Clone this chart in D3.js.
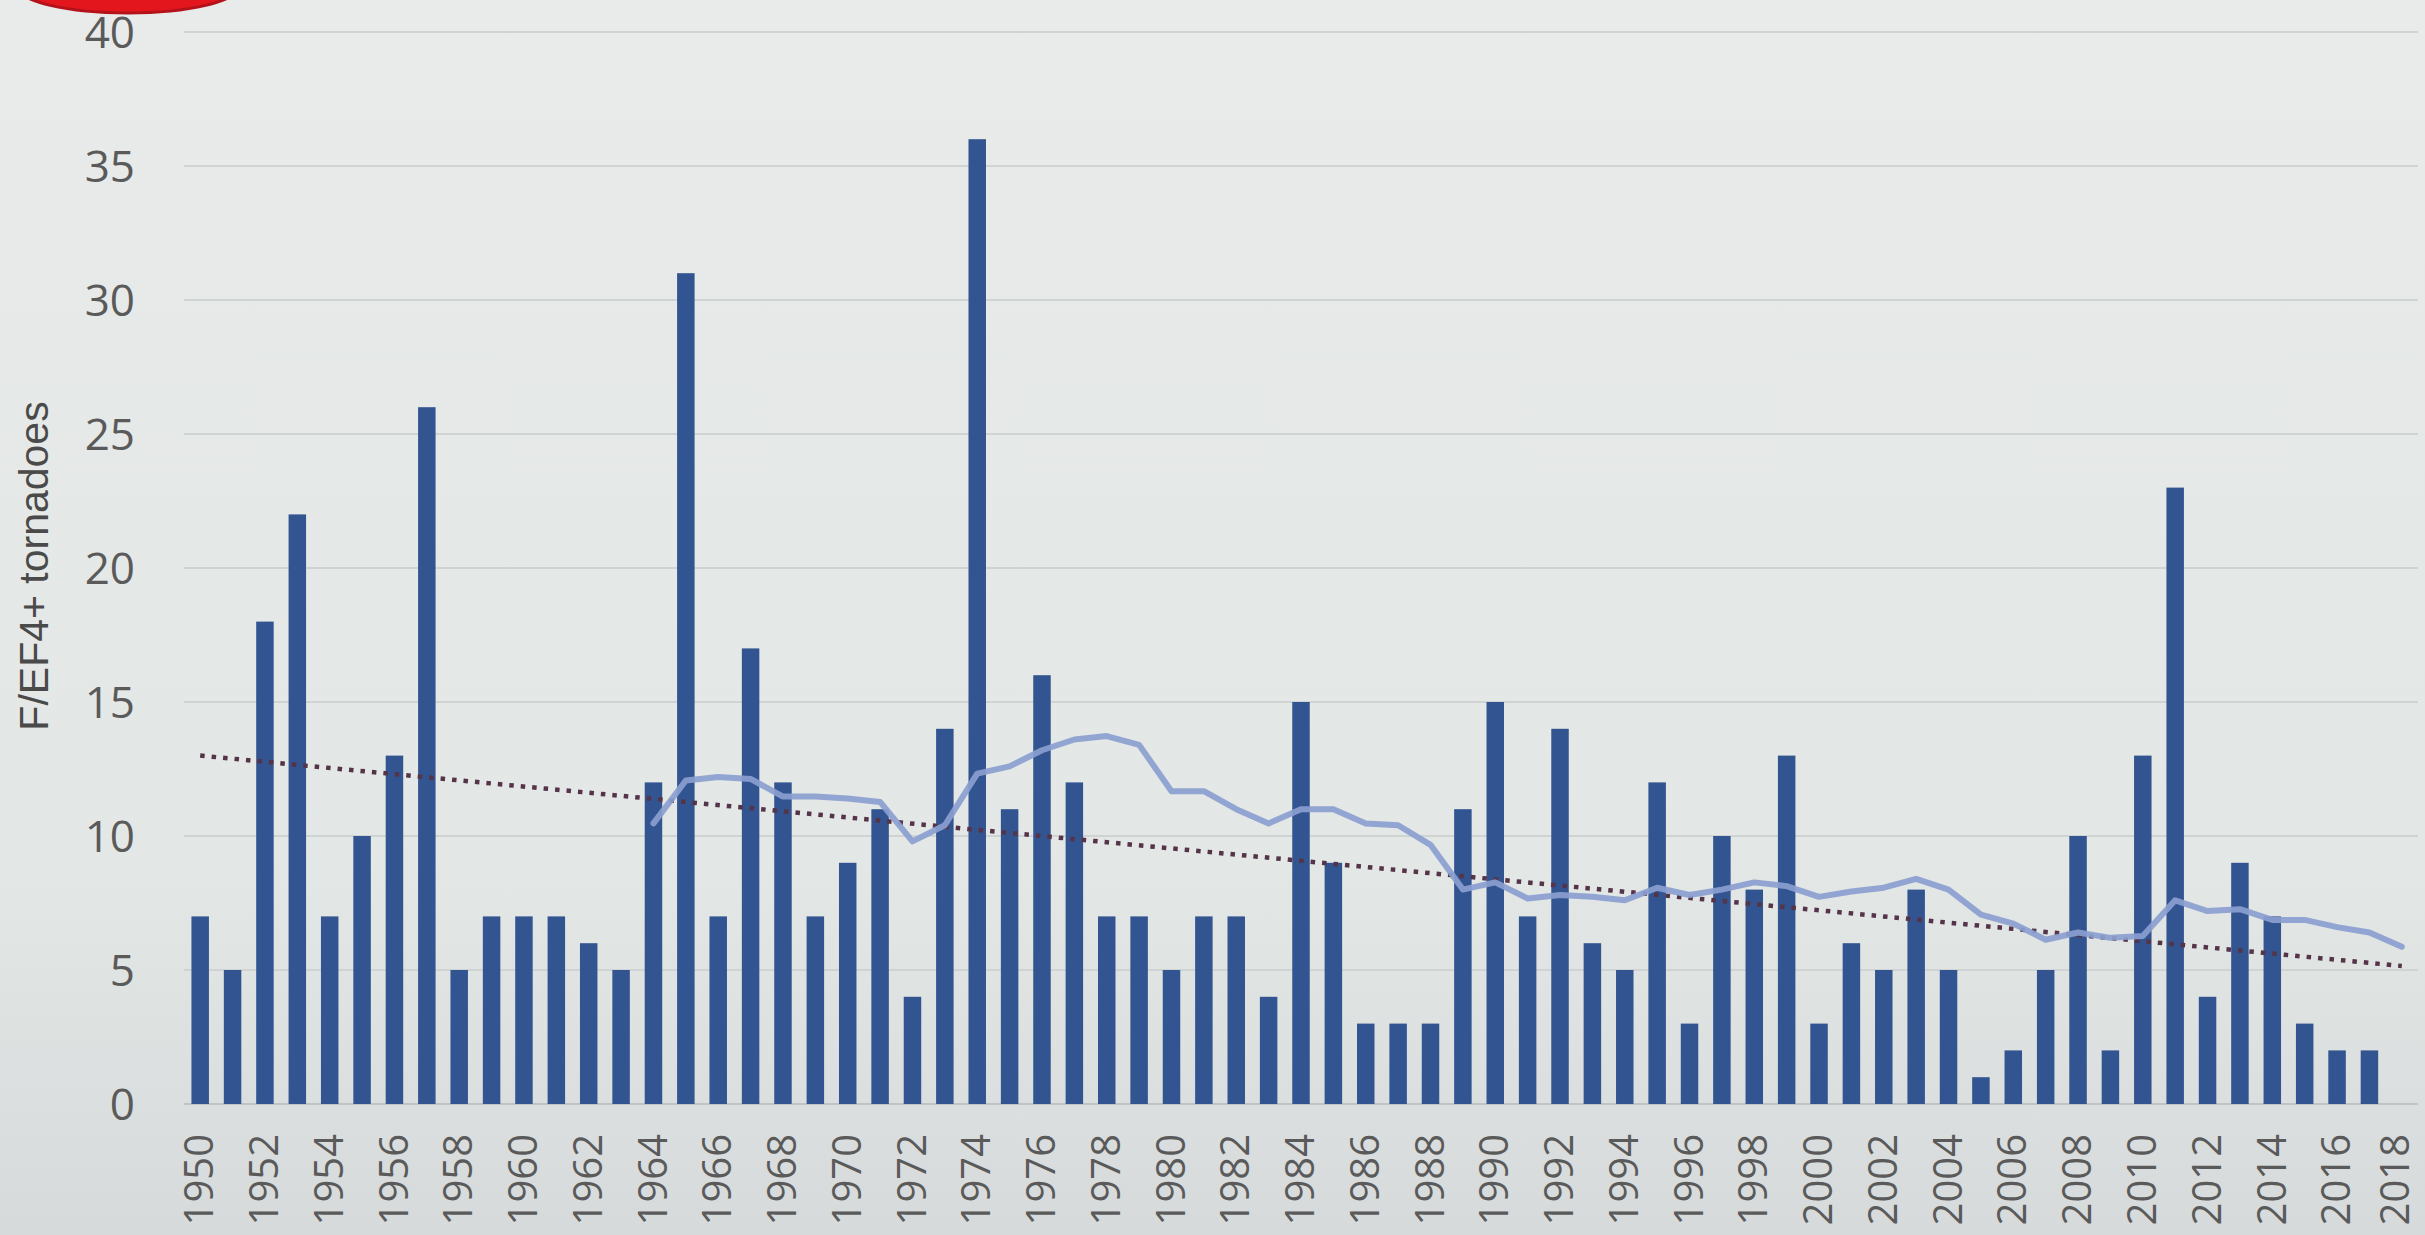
<!DOCTYPE html>
<html>
<head>
<meta charset="utf-8">
<script src="https://cdn.jsdelivr.net/npm/d3@7"></script>
<style>
  body { margin: 0; overflow: hidden; background: #e4e8e6; }
</style>
</head>
<body>
<svg width="2425" height="1235"></svg>
<script>
// categories: years 1950..2018
const years = d3.range(1950, 2019);

// F/EF4+ tornado counts per year (2018 has no bar)
const counts = [7, 5, 18, 22, 7, 10, 13, 26, 5, 7,
                7, 7, 6, 5, 12, 31, 7, 17, 12, 7,
                9, 11, 4, 14, 36, 11, 16, 12, 7, 7,
                5, 7, 7, 4, 15, 9, 3, 3, 3, 11,
                15, 7, 14, 6, 5, 12, 3, 10, 8, 13,
                3, 6, 5, 8, 5, 1, 2, 5, 10, 2,
                13, 23, 4, 9, 7, 3, 2, 2, 0];

// moving average line, 1964..2018
const maYears = d3.range(1964, 2019);
const maValues = [10.47, 12.07, 12.2, 12.13, 11.47, 11.47, 11.4, 11.27, 9.8, 10.4,
                  12.33, 12.6, 13.2, 13.6, 13.73, 13.4, 11.67, 11.67, 11.0, 10.47,
                  11.0, 11.0, 10.47, 10.4, 9.67, 8.0, 8.27, 7.67, 7.8, 7.73,
                  7.6, 8.07, 7.8, 8.0, 8.27, 8.13, 7.73, 7.93, 8.07, 8.4,
                  8.0, 7.07, 6.73, 6.13, 6.4, 6.2, 6.27, 7.6, 7.2, 7.27,
                  6.87, 6.87, 6.6, 6.4, 5.87];

// dotted linear trend, end points
const trendYears = [1950, 2018];
const trendValues = [13.0, 5.15];

const yTicks = [0, 5, 10, 15, 20, 25, 30, 35, 40];
const xLabelYears = years.filter(y => y % 2 === 0);

let svg = d3.select('svg');
let width = +svg.attr('width');
let height = +svg.attr('height');

// background
let defs = svg.append('defs');
let grad = defs.append('linearGradient')
    .attr('id', 'bg')
    .attr('x1', 0).attr('y1', 0).attr('x2', 0).attr('y2', 1);
grad.append('stop').attr('offset', '0%').attr('stop-color', '#e8ebe9');
grad.append('stop').attr('offset', '70%').attr('stop-color', '#e3e7e5');
grad.append('stop').attr('offset', '100%').attr('stop-color', '#d6dadb');
svg.append('rect')
    .attr('width', width).attr('height', height)
    .attr('fill', 'url(#bg)');

// red shape peeking in at the top left
svg.append('ellipse')
    .attr('cx', 128).attr('cy', -13)
    .attr('rx', 110).attr('ry', 26)
    .attr('fill', '#e3151d')
    .attr('stroke', '#b3121a')
    .attr('stroke-width', 3);

// scales
let xScale = d3.scaleBand()
    .domain(years)
    .range([184, 2418])
    .paddingInner(0.46)
    .paddingOuter(0.23);

let yScale = d3.scaleLinear()
    .domain([0, 40])
    .range([1104, 32]);

let bw = xScale.bandwidth();
let xCenter = yr => xScale(yr) + bw / 2;

// gridlines
svg.append('g')
    .selectAll('line')
    .data(yTicks)
    .enter().append('line')
    .attr('x1', 184).attr('x2', 2418)
    .attr('y1', d => yScale(d)).attr('y2', d => yScale(d))
    .attr('stroke', d => d === 0 ? '#bfc3c4' : '#cfd3d3')
    .attr('stroke-width', 2);

// y tick labels
svg.append('g')
    .selectAll('text')
    .data(yTicks)
    .enter().append('text')
    .attr('x', 135)
    .attr('y', d => yScale(d))
    .attr('dy', '0.36em')
    .attr('text-anchor', 'end')
    .attr('font-family', "'Open Sans', sans-serif")
    .attr('font-size', 44)
    .attr('fill', '#5a5a5a')
    .text(d => d);

// y axis title
svg.append('text')
    .attr('transform', 'translate(34,566) rotate(-90)')
    .attr('dy', '0.35em')
    .attr('text-anchor', 'middle')
    .attr('font-family', "'Liberation Sans', Arial, sans-serif")
    .attr('font-size', 41)
    .attr('fill', '#4a4a4a')
    .text('F/EF4+ tornadoes');

// bars
let barData = years.map((y, i) => ({year: y, value: counts[i]}));
svg.append('g')
    .selectAll('rect')
    .data(barData.filter(d => d.value > 0))
    .enter().append('rect')
    .attr('x', d => xScale(d.year))
    .attr('y', d => yScale(d.value))
    .attr('width', bw)
    .attr('height', d => yScale(0) - yScale(d.value))
    .attr('fill', '#325490');

// x labels, rotated (last one kept inside the right edge)
svg.append('g')
    .selectAll('text')
    .data(xLabelYears)
    .enter().append('text')
    .attr('transform', d => `translate(${Math.min(xCenter(d), 2396)},1134) rotate(-90)`)
    .attr('dy', '0.33em')
    .attr('text-anchor', 'end')
    .attr('font-family', "'Open Sans', sans-serif")
    .attr('font-size', 40)
    .attr('fill', '#5a5a5a')
    .text(d => d);

// dotted trend line
let trendData = trendYears.map((y, i) => ({year: y, value: trendValues[i]}));
svg.append('path')
    .datum(trendData)
    .attr('d', d3.line().x(d => xCenter(d.year)).y(d => yScale(d.value)))
    .attr('fill', 'none')
    .attr('stroke', '#553349')
    .attr('stroke-width', 4.5)
    .attr('stroke-dasharray', '4.5 7');

// moving average line
let maData = maYears.map((y, i) => ({year: y, value: maValues[i]}));
svg.append('path')
    .datum(maData)
    .attr('d', d3.line().x(d => xCenter(d.year)).y(d => yScale(d.value)))
    .attr('fill', 'none')
    .attr('stroke', '#8ba0d0')
    .attr('stroke-opacity', 0.92)
    .attr('stroke-width', 6)
    .attr('stroke-linejoin', 'round')
    .attr('stroke-linecap', 'round');
</script>
</body>
</html>
